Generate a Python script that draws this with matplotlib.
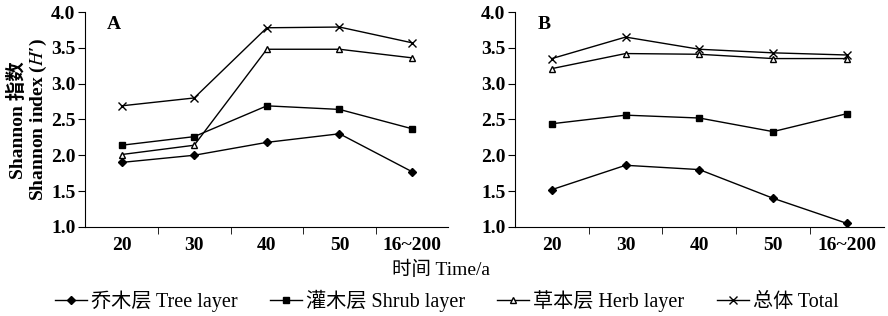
import matplotlib
matplotlib.use("Agg")
import matplotlib.pyplot as plt
import numpy as np

plt.rcParams["font.family"] = ["Liberation Serif", "Noto Sans CJK SC"]
plt.rcParams["mathtext.fontset"] = "stix"
plt.rcParams["mathtext.bf"] = "STIXGeneral:bold"
plt.rcParams["font.size"] = 11

categories = ["20", "30", "40", "50", "16~200"]
series_names = ["乔木层 Tree layer", "灌木层 Shrub layer", "草本层 Herb layer", "总体 Total"]

tree_a = [1.90, 2.00, 2.18, 2.30, 1.77]
shrub_a = [2.14, 2.26, 2.69, 2.64, 2.37]
herb_a = [2.01, 2.14, 3.48, 3.48, 3.36]
total_a = [2.69, 2.80, 3.78, 3.79, 3.57]

tree_b = [1.52, 1.86, 1.80, 1.40, 1.05]
shrub_b = [2.44, 2.56, 2.52, 2.33, 2.58]
herb_b = [3.21, 3.42, 3.41, 3.35, 3.35]
total_b = [3.35, 3.65, 3.48, 3.43, 3.40]

styles = [
    dict(marker="D", markersize=4, markerfacecolor="black"),
    dict(marker="s", markersize=5, markerfacecolor="black"),
    dict(marker="^", markersize=5, markerfacecolor="white"),
    dict(marker="x", markersize=6, markeredgewidth=1.0),
]

fig = plt.figure(figsize=(8.88, 3.16), dpi=100)
ax_a = fig.add_axes([0.096, 0.282, 0.409, 0.680])
ax_b = fig.add_axes([0.580, 0.282, 0.415, 0.680])

x = np.arange(len(categories))
handles = []
for ax, data, tag in [(ax_a, [tree_a, shrub_a, herb_a, total_a], "A"),
                      (ax_b, [tree_b, shrub_b, herb_b, total_b], "B")]:
    for vals, name, st in zip(data, series_names, styles):
        (ln,) = ax.plot(x, vals, color="black", linewidth=1.0,
                        markeredgecolor="black", label=name, **st)
        if tag == "A":
            handles.append(ln)
    ax.set_xlim(-0.5, len(categories) - 0.5)
    ax.set_ylim(1.0, 4.0)
    yt = np.arange(1.0, 4.01, 0.5)
    ax.set_yticks(yt)
    ax.set_yticklabels([f"{v:.1f}" for v in yt], fontsize=14, fontweight="bold")
    ax.set_xticks(x)
    ax.set_xticklabels(categories, fontsize=14, fontweight="bold")
    ax.set_xticks(np.arange(0.5, len(categories) - 0.5, 1.0), minor=True)
    ax.tick_params(axis="x", which="major", length=0, pad=7)
    ax.tick_params(axis="x", which="minor", length=5, direction="out")
    ax.tick_params(axis="y", length=5, direction="out", pad=2)
    ax.spines["top"].set_visible(False)
    ax.spines["right"].set_visible(False)
    ax.text(0.06, 0.98, tag, transform=ax.transAxes, fontsize=14,
            fontweight="bold", ha="left", va="top")

fig.text(0.020, 0.62, "Shannon 指数", rotation=90, ha="center", va="center",
         fontsize=14, fontweight="bold")
fig.text(0.043, 0.62, r"Shannon index ($\mathbf{\mathit{H}}$′)", rotation=90,
         ha="center", va="center", fontsize=14, fontweight="bold")
fig.text(0.497, 0.145, "时间 Time/a", ha="center", va="center", fontsize=14)

fig.legend(handles=handles, loc="center", bbox_to_anchor=(0.503, 0.048), ncol=4,
           frameon=False, fontsize=14.5, handlelength=1.6, handletextpad=0.2,
           columnspacing=1.6, borderaxespad=0)

fig.savefig("out.png", dpi=100)
